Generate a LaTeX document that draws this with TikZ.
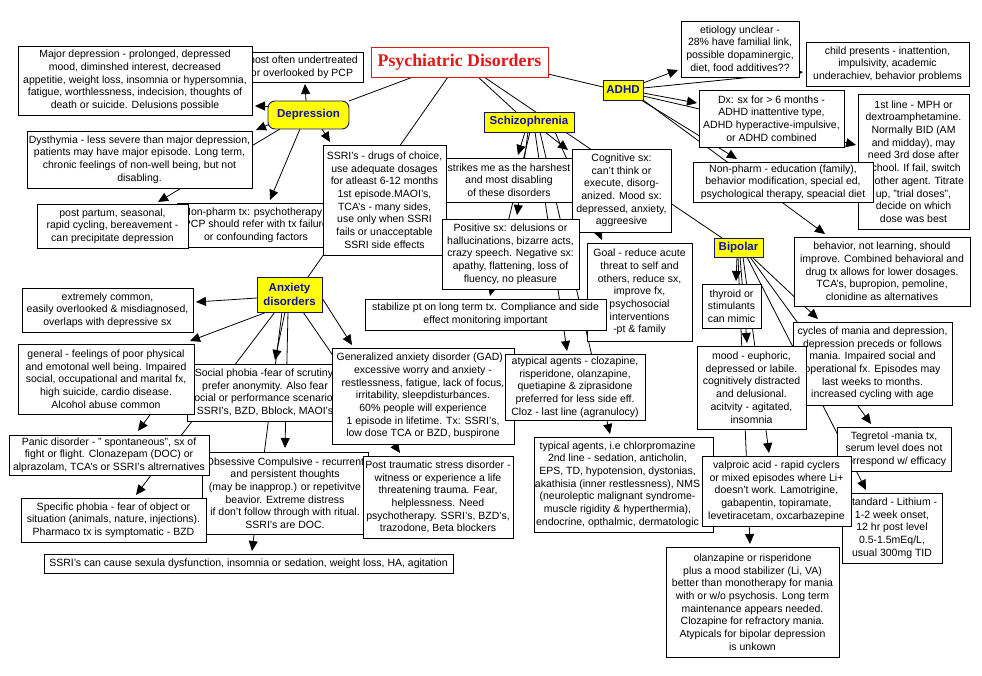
\documentclass[tikz,border=0pt]{standalone}
\usepackage{fontspec}
\setmainfont{Liberation Sans}
\newfontfamily\titlefont{Liberation Serif}
\usetikzlibrary{arrows.meta,calc,backgrounds}
\definecolor{ttlred}{RGB}{226,24,24}
\definecolor{ylwfill}{RGB}{255,255,0}
\definecolor{ybord}{RGB}{20,20,110}
\definecolor{ytext}{RGB}{16,16,170}
\tikzset{
 box/.style={draw=black,fill=white,line width=0.8pt,inner sep=0pt,outer sep=0pt},
 txt/.style={font=\fontsize{10.5}{12.7}\selectfont,align=center,inner sep=0pt},
 ylw/.style={draw=ybord,fill=ylwfill,line width=0.9pt,inner sep=0pt,outer sep=0pt,text=ytext,font=\fontsize{11.5}{13.5}\selectfont\bfseries,align=center},
 ln/.style={line width=0.8pt},
 arr/.style={ln,-{Triangle[length=10pt,width=9pt]}},
}
\newcommand{\bx}[7][0]{%
 \pgfmathsetmacro{\BXw}{#5-#3}%
 \pgfmathsetmacro{\BXh}{#6-#4}%
 \pgfmathsetmacro{\BXx}{(#3+#5)/2}%
 \pgfmathsetmacro{\BXy}{(#4+#6)/2}%
 \node[box,minimum width=\BXw pt,minimum height=\BXh pt] (#2) at (\BXx,\BXy) {};%
 \begin{scope}
  \clip (#3,#4) rectangle (#5,#6);
  \node[txt] (#2-t) at (\BXx+#1,\BXy) {#7};
 \end{scope}}
\begin{document}
\begin{tikzpicture}[x=1pt,y=-1pt]
\useasboundingbox (0,0) rectangle (982,676);
% ---- boxes ----
\bx{most}{241}{52}{363}{82}{most often undertreated\\or overlooked by PCP}
\bx{major}{18}{46}{252}{115}{Major depression - prolonged, depressed\\mood, diminshed interest, decreased\\appetitie, weight loss, insomnia or hypersomnia,\\fatigue, worthlessness, indecision, thoughts of\\death or suicide. Delusions possible}
\bx{dys}{27}{131}{252}{188}{Dysthymia - less severe than major depression,\\patients may have major episode. Long term,\\chronic feelings of non-well being, but not\\disabling.}
\bx{nonph}{177}{203}{335}{247}{Non-pharm tx: psychotherapy -\\PCP should refer with tx failure\\or confounding factors}
\bx{post}{37}{204}{188}{248}{post partum, seasonal,\\rapid cycling, bereavement -\\can precipitate depression}
\bx{ssri}{323}{145}{446}{255}{SSRI's - drugs of choice,\\use adequate dosages\\for atleast 6-12 months\\1st episode.MAOI's,\\TCA's - many sides,\\use only when SSRI\\fails or unacceptable\\SSRI side effects}
\bx{strikes}{446}{158}{572}{202}{strikes me as the harshest\\and most disabling\\of these disorders}
\bx{cog}{572}{149}{671}{232}{Cognitive sx:\\can't think or\\execute, disorg-\\anized. Mood sx:\\depressed, anxiety,\\aggreesive}
\bx{pos}{442}{219}{579}{289}{Positive sx: delusions or\\hallucinations, bizarre acts,\\crazy speech. Negative sx:\\apathy, flattening, loss of\\fluency, no pleasure}
\bx{goal}{587}{243}{692}{341}{Goal - reduce acute\\threat to self and\\others, reduce sx,\\improve fx,\\psychosocial\\interventions\\-pt \& family}
\bx{stab}{365}{299}{606}{330}{stabilize pt on long term tx. Compliance and side\\effect monitoring important}
\bx{etio}{681}{21}{799}{77}{etiology unclear -\\28\% have familial link,\\possible dopaminergic,\\diet, food additives??}
\bx{child}{806}{42}{969}{86}{child presents - inattention,\\impulsivity, academic\\underachiev, behavior problems}
\bx{dx}{699}{90}{844}{147}{Dx: sx for > 6 months -\\ADHD inattentive type,\\ADHD hyperactive-impulsive,\\or ADHD combined}
\bx{first}{858}{94}{969}{229}{1st line - MPH or\\dextroamphetamine.\\Normally BID (AM\\and midday), may\\need 3rd dose after\\school. If fail, switch\\to other agent. Titrate\\up, "trial doses",\\decide on which\\dose was best}
\bx{nonpa}{693}{162}{873}{202}{Non-pharm - education (family),\\behavior modification, special ed,\\psychological therapy, speacial diet}
\bx{behav}{794}{237}{970}{306}{behavior, not learning, should\\improve. Combined behavioral and\\drug tx allows for lower dosages.\\TCA's, bupropion, pemoline,\\clonidine as alternatives}
\bx{thyr}{702}{284}{761}{328}{thyroid or\\stimulants\\can mimic}
\bx{cyc}{793}{322}{952}{405}{cycles of mania and depression,\\depression preceds or follows\\mania. Impaired social and\\operational fx. Episodes may\\last weeks to months.\\increased cycling with age}
\bx{mood}{697}{346}{806}{429}{mood - euphoric,\\depressed or labile.\\cognitively distracted\\and delusional.\\acitvity - agitated,\\insomnia}
\bx{teg}{837}{427}{951}{471}{Tegretol -mania tx,\\serum level does not\\correspond w/ efficacy}
\bx{lith}{842}{493}{942}{563}{standard - Lithium -\\1-2 week onset,\\12 hr post level\\0.5-1.5mEq/L,\\usual 300mg TID}
\bx[-6]{typ}{534}{437}{713}{532}{typical agents, i.e chlorpromazine\\2nd line - sedation, anticholin,\\EPS, TD, hypotension, dystonias,\\akathisia (inner restlessness), NMS\\(neuroleptic malignant syndrome-\\muscle rigidity \& hyperthermia),\\endocrine, opthalmic, dermatologic}
\bx{valp}{702}{456}{851}{526}{valproic acid - rapid cyclers\\or mixed episodes where Li+\\doesn't work. Lamotrigine,\\gabapentin, topiramate,\\levetiracetam, oxcarbazepine}
\bx{olz}{666}{547}{839}{657}{olanzapine or risperidone\\plus a mood stabilizer (Li, VA)\\better than monotherapy for mania\\with or w/o psychosis. Long term\\maintenance appears needed.\\Clozapine for refractory mania.\\Atypicals for bipolar depression\\is unkown}
\bx{ext}{22}{288}{193}{332}{extremely common,\\easily overlooked \& misdiagnosed,\\overlaps with depressive sx}
\bx{soc}{187}{364}{343}{421}{Social phobia -fear of scrutiny,\\prefer anonymity. Also fear\\social or performance scenarios.\\SSRI's, BZD, Bblock, MAOI's}
\bx{gen}{18}{344}{194}{414}{general - feelings of poor physical\\and emotonal well being. Impaired\\social, occupational and marital fx,\\high suicide, cardio disease.\\Alcohol abuse common}
\bx{gad}{332}{348}{514}{444}{Generalized anxiety disorder (GAD) -\\excessive worry and anxiety -\\restlessness, fatigue, lack of focus,\\irritability, sleepdisturbances.\\60\% people will experience\\1 episode in lifetime. Tx: SSRI's,\\low dose TCA or BZD, buspirone}
\bx{atyp}{505}{354}{645}{420}{atypical agents - clozapine,\\risperidone, olanzapine,\\quetiapine \& ziprasidone\\preferred for less side eff.\\Cloz - last line (agranulocy)}
\bx{ocd}{202}{452}{368}{534}{Obsessive Compulsive - recurrent\\and persistent thoughts\\(may be inapprop.) or repetivitve\\beavior. Extreme distress\\if don't follow through with ritual.\\SSRI's are DOC.}
\bx{ptsd}{363}{456}{513}{538}{Post traumatic stress disorder -\\witness or experience a life\\threatening trauma. Fear,\\helplessness. Need\\psychotherapy. SSRI's, BZD's,\\trazodone, Beta blockers}
\bx{panic}{9}{435}{209}{475}{Panic disorder - " spontaneous", sx of\\fight or flight. Clonazepam (DOC) or\\alprazolam, TCA's or SSRI's altrernatives}
\bx{spec}{21}{498}{206}{542}{Specific phobia - fear of object or\\situation (animals, nature, injections).\\Pharmaco tx is symptomatic - BZD}
\bx{ssrican}{44}{554}{453}{573}{SSRI's can cause sexula dysfunction, insomnia or sedation, weight loss, HA, agitation}
% ---- concepts ----
\node[draw=ttlred,fill=white,line width=0.8pt,minimum width=177pt,minimum height=30pt,inner sep=0pt,outer sep=0pt,text=ttlred,font=\titlefont\fontsize{17.8}{19}\selectfont\bfseries] (title) at (459.5,62) {Psychiatric Disorders};
\node[ylw,rounded corners=7pt,minimum width=81pt,minimum height=28pt] (dep) at (308.5,115) {Depression};
\node[ylw,minimum width=90pt,minimum height=20pt] (schiz) at (529,122) {Schizophrenia};
\node[ylw,minimum width=40pt,minimum height=20pt] (adhd) at (623,90) {ADHD};
\node[ylw,minimum width=49pt,minimum height=19pt] (bip) at (738.5,247.5) {Bipolar};
\node[ylw,minimum width=65pt,minimum height=35pt] (anx) at (289.5,294.5) {Anxiety\\disorders};
% ---- connectors ----
\begin{pgfonlayer}{background}
\fill[white] (0,0) rectangle (982,676);
\draw[ln] ($(title.north west)+(42,30)$) -- ($(dep.north west)+(81,0)$);
\draw[ln] ($(title.north west)+(77,30)$) -- ($(anx.north west)+(51,0)$);
\draw[ln] ($(title.north west)+(107,30)$) -- ($(schiz.north west)+(32,0)$);
\draw[ln] ($(title.north west)+(113,30)$) -- ($(bip.north west)+(8,0)$);
\draw[ln] ($(title.north west)+(177,27)$) -- ($(adhd.north west)+(0,7)$);
\draw[arr] ($(dep.north west)+(38,0)$) -- ($(most.north west)+(64,32)$);
\draw[arr] ($(dep.north west)+(0,5)$) -- ($(major.north west)+(237,60)$);
\draw[arr] ($(dep.north west)+(2,23)$) -- ($(dys.north west)+(229,-1)$);
\draw[arr] ($(dep.north west)+(12,28)$) -- ($(post.north west)+(121,-2)$);
\draw[arr] ($(dep.north west)+(32,28)$) -- ($(nonph.north west)+(93,-3)$);
\draw[arr] ($(dep.north west)+(54,28)$) -- ($(ssri.north west)+(7,-3)$);
\draw[arr] ($(anx.north west)+(0,21)$) -- ($(ext.north west)+(174,14)$);
\draw[arr] ($(anx.north west)+(10,35)$) -- ($(gen.north west)+(172,-3)$);
\draw[arr] ($(gen.north west)+(140,60)$) -- ($(panic.north west)+(129,-4)$);
\draw[arr] ($(anx.north west)+(18,35)$) -- ($(spec.north west)+(115,-3)$);
\draw[arr] ($(anx.north west)+(28,35)$) -- ($(soc.north west)+(88,-4)$);
\draw[arr] ($(anx.north west)+(31,35)$) -- ($(ocd.north west)+(83,-4)$);
\draw[arr] ($(anx.north west)+(25,35)$) -- ($(ssrican.north west)+(208,-3)$);
\draw[arr] ($(anx.north west)+(65,21)$) -- ($(gad.north west)+(20,-3)$);
\draw[arr] ($(anx.north west)+(46,35)$) -- ($(ptsd.north west)+(37,-3)$);
\draw[arr] ($(schiz.north west)+(41,20)$) -- ($(strikes.north west)+(72,-3)$);
\draw[arr] ($(schiz.north west)+(61,20)$) -- ($(cog.north west)+(-4,1)$);
\draw[arr] ($(schiz.north west)+(44,20)$) -- ($(pos.north west)+(75,-4)$);
\draw[arr] ($(schiz.north west)+(46,20)$) -- ($(stab.north west)+(125,-3)$);
\draw[arr] ($(schiz.north west)+(71,20)$) -- ($(goal.north west)+(15,-3)$);
\draw[arr] ($(schiz.north west)+(51,20)$) -- ($(atyp.north west)+(62,-3)$);
\draw[arr] ($(schiz.north west)+(56,20)$) -- ($(typ.north west)+(76,-3)$);
\draw[arr] ($(adhd.north west)+(40,3)$) -- ($(etio.north west)+(-3,49)$);
\draw[arr] ($(adhd.north west)+(40,8)$) -- ($(child.north west)+(-3,30)$);
\draw[arr] ($(adhd.north west)+(40,13)$) -- ($(dx.north west)+(-2,13)$);
\draw[arr] ($(adhd.north west)+(40,16)$) -- ($(first.north west)+(-2,51)$);
\draw[arr] ($(adhd.north west)+(38,20)$) -- ($(nonpa.north west)+(44,-3)$);
\draw[arr] ($(adhd.north west)+(40,20)$) -- ($(behav.north west)+(31,-3)$);
\draw[arr] ($(bip.north west)+(23,19)$) -- ($(thyr.north west)+(34,-3)$);
\draw[arr] ($(bip.north west)+(26,19)$) -- ($(mood.north west)+(50,-3)$);
\draw[arr] ($(bip.north west)+(29,19)$) -- ($(valp.north west)+(67,-3)$);
\draw[arr] ($(bip.north west)+(24,19)$) -- ($(olz.north west)+(84,-3)$);
\draw[arr] ($(bip.north west)+(38,19)$) -- ($(cyc.north west)+(25,-3)$);
\draw[arr] ($(bip.north west)+(36,19)$) -- ($(teg.north west)+(34,-3)$);
\draw[arr] ($(bip.north west)+(33,19)$) -- ($(lith.north west)+(24,-3)$);
\end{pgfonlayer}
\end{tikzpicture}
\end{document}
